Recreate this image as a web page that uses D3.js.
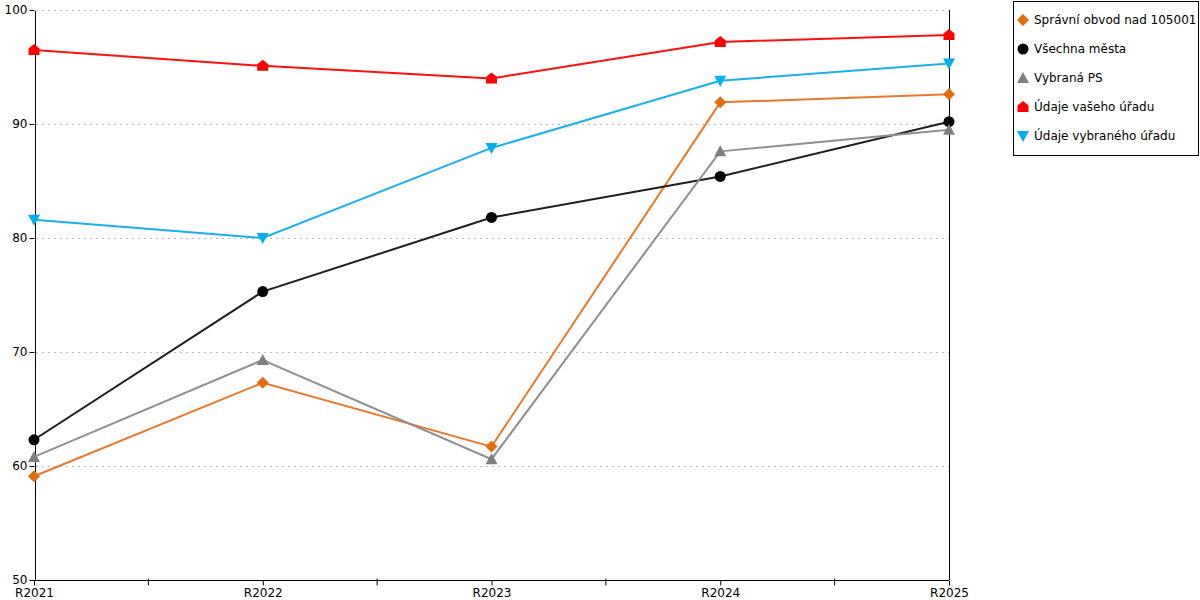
<!DOCTYPE html>
<html><head><meta charset="utf-8">
<script src="https://cdn.jsdelivr.net/npm/d3@7"></script>
<style>
body{margin:0;background:#fff;}
text{font-family:"DejaVu Sans",Verdana,sans-serif;}
</style></head>
<body><svg id="c" width="1200" height="600"></svg>
<script>
const categories = ["R2021","R2022","R2023","R2024","R2025"];
const seriesNames = ["Správní obvod nad 105001","Všechna města","Vybraná PS","Údaje vašeho úřadu","Údaje vybraného úřadu"];
const sprAvni = [59.1, 67.3, 61.7, 91.9, 92.6];
const vsechnaMesta = [62.3, 75.3, 81.8, 85.4, 90.2];
const vybranaPS = [60.8, 69.3, 60.6, 87.6, 89.5];
const vaseUrad = [96.5, 95.1, 94.0, 97.2, 97.8];
const vybranyUrad = [81.6, 80.0, 87.9, 93.8, 95.3];
const yTicks = [50, 60, 70, 80, 90, 100];

const svg = d3.select("#c");
const x = d3.scalePoint().domain(categories).range([34, 949]);
const y = d3.scaleLinear().domain([50, 100]).range([580, 10]);

// gridlines
svg.append("g").selectAll("line").data(yTicks.filter(d => d > 50)).join("line")
  .attr("x1", 36).attr("x2", 949).attr("y1", d => y(d) + 0.5).attr("y2", d => y(d) + 0.5)
  .attr("stroke", "#bdbdbd").attr("stroke-dasharray", "2,4").attr("shape-rendering","crispEdges");

// right border line
svg.append("line").attr("x1", 949.5).attr("x2", 949.5).attr("y1", y(100)).attr("y2", y(50))
  .attr("stroke", "#000").attr("shape-rendering","crispEdges");

// y axis
const yAxis = svg.append("g").attr("transform", "translate(34.5,0)")
  .call(d3.axisLeft(y).tickValues(yTicks).tickSize(5).tickSizeOuter(0));
yAxis.select(".domain").attr("stroke", "#000").attr("shape-rendering","crispEdges");
yAxis.selectAll("text").attr("font-size", 12).attr("fill", "#000").attr("x", -7);

// x axis
const xAxis = svg.append("g").attr("transform", "translate(0,580.5)")
  .call(d3.axisBottom(x).tickSize(5).tickSizeOuter(0));
xAxis.select(".domain").attr("stroke", "#000").attr("d", "M34,0H949");
xAxis.selectAll("text").attr("font-size", 12).attr("fill", "#000").attr("dy", "1.1em").attr("y", 3);
// minor ticks between categories
const mids = categories.slice(0, -1).map((c, i) => (x(c) + x(categories[i + 1])) / 2);
xAxis.append("g").selectAll("line").data(mids).join("line")
  .attr("x1", d => d).attr("x2", d => d).attr("y1", -2).attr("y2", 5).attr("stroke", "#000");

const series = [
  {name: seriesNames[0], values: sprAvni, line: "#e8792b", fill: "#e46c0a", shape: "diamond"},
  {name: seriesNames[1], values: vsechnaMesta, line: "#1e1e1e", fill: "#000", shape: "circle"},
  {name: seriesNames[2], values: vybranaPS, line: "#8f8f8f", fill: "#7f7f7f", shape: "up"},
  {name: seriesNames[3], values: vaseUrad, line: "#ff1010", fill: "#ff0000", shape: "house"},
  {name: seriesNames[4], values: vybranyUrad, line: "#1ab0ee", fill: "#00b0f0", shape: "down"}
];

function markerPath(shape) {
  switch (shape) {
    case "diamond": return "M0,-6L6,0L0,6L-6,0Z";
    case "up": return "M0,-6L6,5L-6,5Z";
    case "down": return "M-6,-5L6,-5L0,6Z";
    case "house": return "M0,-6L5.5,-1.5L5.5,5L-5.5,5L-5.5,-1.5Z";
  }
}
function drawMarker(g, shape, fill) {
  if (shape === "circle") g.append("circle").attr("r", 5.5).attr("fill", fill);
  else g.append("path").attr("d", markerPath(shape)).attr("fill", fill);
}

const line = d3.line().x((d, i) => x(categories[i])).y(d => y(d));
series.forEach(s => {
  svg.append("path").attr("d", line(s.values)).attr("fill", "none")
    .attr("stroke", s.line).attr("stroke-width", 2);
});
series.forEach(s => {
  s.values.forEach((v, i) => {
    const g = svg.append("g").attr("transform", `translate(${x(categories[i])},${y(v)})`);
    drawMarker(g, s.shape, s.fill);
  });
});

// legend
const lg = svg.append("g");
lg.append("rect").attr("x", 1013.5).attr("y", 1.5).attr("width", 185).attr("height", 154)
  .attr("fill", "#fff").attr("stroke", "#000");
series.forEach((s, i) => {
  const yy = 20 + i * 29;
  const g = lg.append("g").attr("transform", `translate(1023,${yy})`);
  drawMarker(g, s.shape, s.fill);
  lg.append("text").attr("x", 1034).attr("y", yy).attr("dy", "0.35em")
    .attr("font-size", 12).attr("fill", "#000").text(s.name);
});
</script></body></html>
